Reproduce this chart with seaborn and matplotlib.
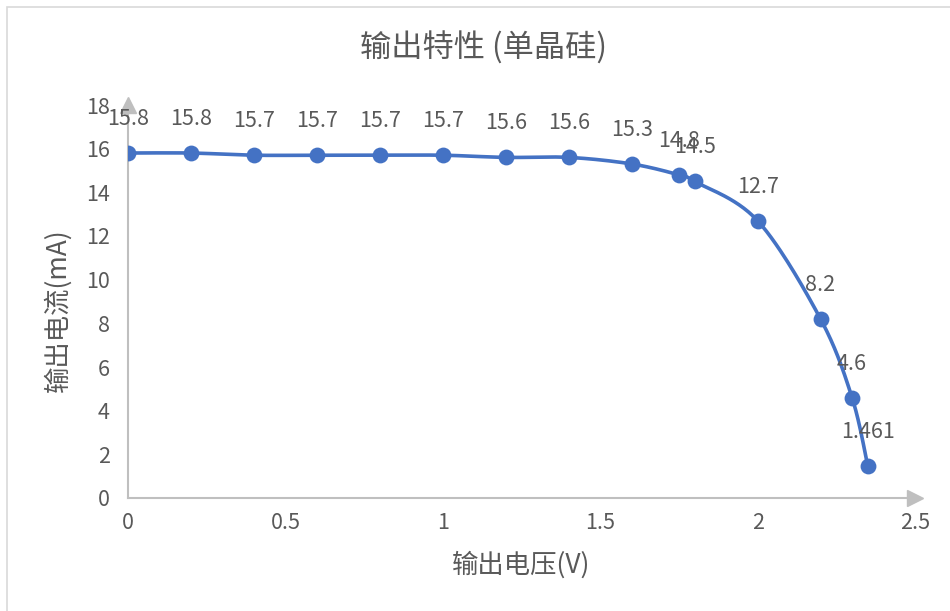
import numpy as np
import matplotlib
matplotlib.use("Agg")
import matplotlib.pyplot as plt
import seaborn as sns
from matplotlib.patches import Rectangle

voltage = [0, 0.2, 0.4, 0.6, 0.8, 1.0, 1.2, 1.4, 1.6, 1.75, 1.8, 2.0, 2.2, 2.3, 2.35]
current = [15.8, 15.8, 15.7, 15.7, 15.7, 15.7, 15.6, 15.6, 15.3, 14.8, 14.5, 12.7, 8.2, 4.6, 1.461]
labels = ["15.8", "15.8", "15.7", "15.7", "15.7", "15.7", "15.6", "15.6", "15.3", "14.8", "14.5", "12.7", "8.2", "4.6", "1.461"]
x_ticks = [0, 0.5, 1, 1.5, 2, 2.5]
x_tick_labels = ["0", "0.5", "1", "1.5", "2", "2.5"]
y_ticks = [0, 2, 4, 6, 8, 10, 12, 14, 16, 18]

title = "输出特性 (单晶硅)"
xlabel = "输出电压(V)"
ylabel = "输出电流(mA)"

sns.set_theme(style="white")
plt.rcParams['font.family'] = ['Noto Sans CJK SC', 'DejaVu Sans']

blue = "#4472C4"
gray_text = "#595959"
axis_gray = "#BFBFBF"

fig = plt.figure(figsize=(9.5, 6.11), dpi=100)
ax = fig.add_axes([128/950, 1-498/611, (915-128)/950, (498-105)/611])

# Excel-style smooth line (Catmull-Rom Bezier through the data points)
def smooth_curve(xs, ys, n=30):
    P = np.column_stack([xs, ys]).astype(float)
    P = np.vstack([P[0], P, P[-1]])
    out = []
    for i in range(1, len(P) - 2):
        p0, p1, p2, p3 = P[i-1], P[i], P[i+1], P[i+2]
        c1 = p1 + (p2 - p0) / 6.0
        c2 = p2 - (p3 - p1) / 6.0
        t = np.linspace(0, 1, n)[:, None]
        seg = ((1-t)**3)*p1 + 3*((1-t)**2)*t*c1 + 3*(1-t)*(t**2)*c2 + (t**3)*p2
        out.append(seg if i == 1 else seg[1:])
    return np.vstack(out)

curve = smooth_curve(voltage, current)
ax.plot(curve[:, 0], curve[:, 1], color=blue, lw=2.6, zorder=2, solid_capstyle='round')
sns.scatterplot(x=voltage, y=current, ax=ax, color=blue, s=130, edgecolor=blue, linewidth=0, zorder=3, legend=False)

for xv, yv, lab in zip(voltage, current, labels):
    ax.annotate(lab, (xv, yv), xytext=(0, 24.5), textcoords="offset points",
                ha="center", va="center", fontsize=15.5, color=gray_text, zorder=4)

ax.set_xlim(0, 2.5)
ax.set_ylim(0, 18)
ax.set_xticks(x_ticks)
ax.set_xticklabels(x_tick_labels)
ax.set_yticks(y_ticks)
ax.tick_params(axis='both', length=0, labelsize=15.5, colors=gray_text)
ax.tick_params(axis='x', pad=10)
ax.tick_params(axis='y', pad=13)
for s in ["top", "right"]:
    ax.spines[s].set_visible(False)
for s in ["left", "bottom"]:
    ax.spines[s].set_color(axis_gray)
    ax.spines[s].set_linewidth(1.5)
ax.set_xlabel(xlabel, fontsize=19, color=gray_text)
ax.set_ylabel(ylabel, fontsize=19, color=gray_text)
ax.xaxis.label.set_va('center')
ax.yaxis.label.set_va('center')
ax.xaxis.set_label_coords(0.5, (498-565)/393)
ax.yaxis.set_label_coords((58-128)/787, (498-310)/393)
ax.patch.set_alpha(0)

# arrow heads
ax.plot([1], [0], marker=">", markersize=12, color=axis_gray, transform=ax.transAxes, clip_on=False, zorder=1)
ax.plot([0], [1], marker="^", markersize=12, color=axis_gray, transform=ax.transAxes, clip_on=False, zorder=1)

fig.text(484/950, 1-48/611, title, ha="center", va="center", fontsize=22.5, color=gray_text)

border = Rectangle((7/950, -0.05), 1.0, 1 - 7/611 + 0.05,
                   transform=fig.transFigure, fill=False, edgecolor="#D9D9D9", linewidth=1.2)
fig.patches.append(border)

fig.savefig("out.png", dpi=100)
